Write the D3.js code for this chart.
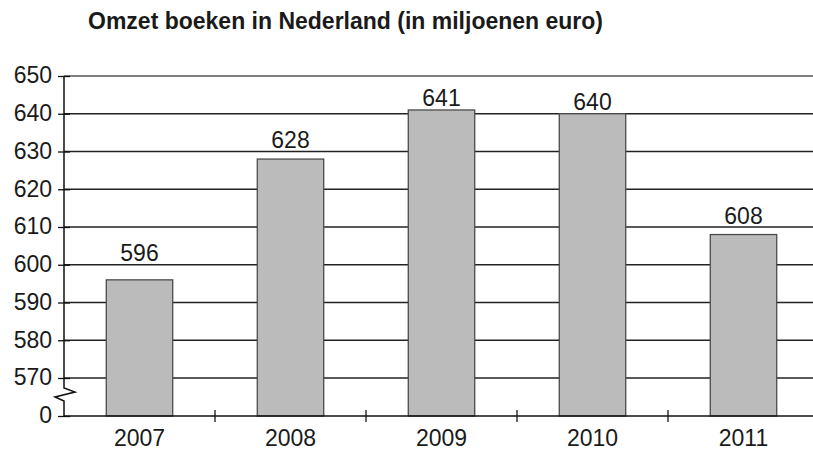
<!DOCTYPE html>
<html><head><meta charset="utf-8">
<script src="https://cdn.jsdelivr.net/npm/d3@7"></script>
<style>body{margin:0;background:#fff;}svg{display:block;font-family:"Liberation Sans",Arial,sans-serif;}</style>
</head><body><svg id="c" width="813" height="450"></svg>
<script>
const title = "Omzet boeken in Nederland (in miljoenen euro)";
const years = ["2007","2008","2009","2010","2011"];
const values = [596, 628, 641, 640, 608];
const labels = ["596","628","641","640","608"];
const yTicks = [0, 570, 580, 590, 600, 610, 620, 630, 640, 650];

const svg = d3.select("#c");
const pLeft = 64, pRight = 819, pTop = 76, pBottom = 416;
const fs = 23;
const x = d3.scaleBand().domain(years).range([pLeft, pRight]).paddingInner(0.56).paddingOuter(0.28);
const y = d3.scaleLinear().domain([0, 570, 650]).range([pBottom, 378, pTop]);

svg.append("text").attr("x", 88).attr("y", 29).attr("font-size", fs).attr("font-weight", "bold").attr("fill", "#1a1a1a").text(title);

// gridlines
const grid = yTicks.filter(d => d > 0);
svg.append("g").selectAll("line").data(grid).join("line")
  .attr("x1", pLeft).attr("x2", 813).attr("y1", d => y(d)).attr("y2", d => y(d))
  .attr("stroke", d => d === 650 ? "#555" : "#222").attr("stroke-width", 1.3);

// bars
svg.append("g").selectAll("rect").data(values).join("rect")
  .attr("x", (d, i) => x(years[i])).attr("width", x.bandwidth())
  .attr("y", d => y(d)).attr("height", d => pBottom - y(d))
  .attr("fill", "#bbbbbb").attr("stroke", "#4a4a4a").attr("stroke-width", 1.3);

// value labels: just above bar, moved above a gridline if it would cross one
function labelY(v) {
  let b = y(v) - 4;
  grid.forEach(g => { const gy = y(g); if (gy > b - 17 && gy < b + 2) b = Math.min(b, gy - 3.5); });
  return b;
}
svg.append("g").selectAll("text").data(values).join("text")
  .attr("x", (d, i) => x(years[i]) + x.bandwidth() / 2).attr("y", d => labelY(d))
  .attr("text-anchor", "middle").attr("font-size", fs).attr("fill", "#1a1a1a")
  .text((d, i) => labels[i]);

// y axis
const yAxis = d3.axisLeft(y).tickValues(yTicks).tickSize(6).tickPadding(6).tickFormat(d => String(d));
const gy = svg.append("g").attr("transform", `translate(${pLeft},0)`).call(yAxis);
gy.select(".domain").remove();
gy.selectAll(".tick line").attr("x1", -6).attr("x2", 6).attr("stroke", "#111").attr("stroke-width", 1.3);
gy.selectAll(".tick text").attr("font-size", fs).attr("fill", "#1a1a1a").attr("dy", "0.3em")
  .attr("font-family", "Liberation Sans, Arial, sans-serif");

// y axis line with break
const brk = d3.path();
brk.moveTo(pLeft, pTop); brk.lineTo(pLeft, 388);
brk.lineTo(pLeft + 11, 392); brk.lineTo(pLeft - 9, 397); brk.lineTo(pLeft, 401);
brk.lineTo(pLeft, pBottom);
svg.append("path").attr("d", brk.toString()).attr("fill", "none").attr("stroke", "#111").attr("stroke-width", 1.5);

// x axis
svg.append("line").attr("x1", pLeft).attr("x2", 813).attr("y1", pBottom).attr("y2", pBottom).attr("stroke", "#111").attr("stroke-width", 1.5);
const bounds = years.slice(1).map(yy => x(yy) - x.step() * x.paddingInner() / 2);
svg.append("g").selectAll("line").data(bounds).join("line")
  .attr("x1", d => d).attr("x2", d => d).attr("y1", pBottom - 6).attr("y2", pBottom + 6)
  .attr("stroke", "#111").attr("stroke-width", 1.3);
svg.append("g").selectAll("text").data(years).join("text")
  .attr("x", d => x(d) + x.bandwidth() / 2).attr("y", 446)
  .attr("text-anchor", "middle").attr("font-size", fs).attr("fill", "#1a1a1a").text(d => d);
</script></body></html>
